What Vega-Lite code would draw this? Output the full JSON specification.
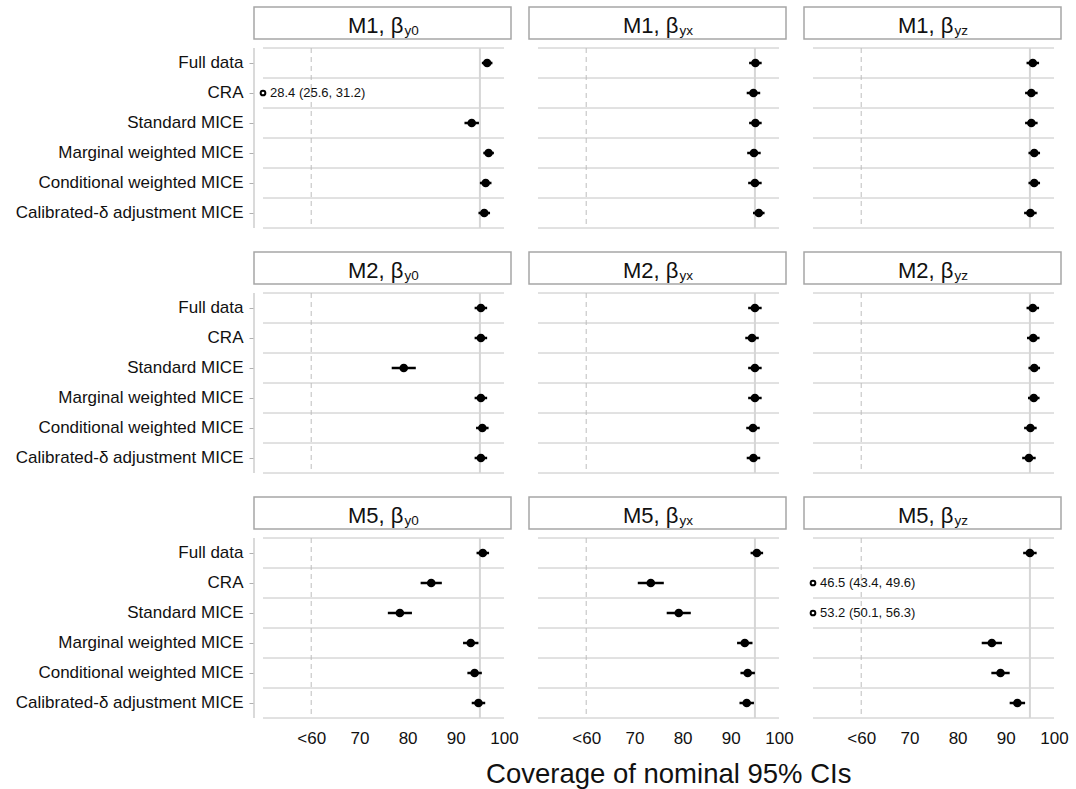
{
  "$schema": "https://vega.github.io/schema/vega-lite/v6.json",
  "background": "white",
  "padding": {"left": 15, "top": 6, "right": 5, "bottom": 5},
  "config": {"view": {"stroke": null}, "font": "Liberation Sans"},
  "title": {"text": "Coverage of nominal 95% CIs", "orient": "bottom", "anchor": "middle", "frame": "bounds", "dx": 127, "fontSize": 27.5, "fontWeight": "normal", "color": "#111111", "offset": 15},
  "data": {
    "values": [
      {"model": "M1", "param": "y0", "method": "Full data", "coverage": 96.5, "lo": 95.4, "hi": 97.6},
      {"model": "M1", "param": "y0", "method": "CRA", "coverage": 28.4, "lo": 25.6, "hi": 31.2},
      {"model": "M1", "param": "y0", "method": "Standard MICE", "coverage": 93.3, "lo": 91.8, "hi": 94.8},
      {"model": "M1", "param": "y0", "method": "Marginal weighted MICE", "coverage": 96.8, "lo": 95.7, "hi": 97.9},
      {"model": "M1", "param": "y0", "method": "Conditional weighted MICE", "coverage": 96.2, "lo": 95.0, "hi": 97.4},
      {"model": "M1", "param": "y0", "method": "Calibrated-δ adjustment MICE", "coverage": 95.9, "lo": 94.7, "hi": 97.1},
      {"model": "M1", "param": "yx", "method": "Full data", "coverage": 95.1, "lo": 93.8, "hi": 96.4},
      {"model": "M1", "param": "yx", "method": "CRA", "coverage": 94.7, "lo": 93.3, "hi": 96.1},
      {"model": "M1", "param": "yx", "method": "Standard MICE", "coverage": 95.1, "lo": 93.8, "hi": 96.4},
      {"model": "M1", "param": "yx", "method": "Marginal weighted MICE", "coverage": 94.8, "lo": 93.4, "hi": 96.2},
      {"model": "M1", "param": "yx", "method": "Conditional weighted MICE", "coverage": 95.0, "lo": 93.6, "hi": 96.4},
      {"model": "M1", "param": "yx", "method": "Calibrated-δ adjustment MICE", "coverage": 95.8, "lo": 94.6, "hi": 97.0},
      {"model": "M1", "param": "yz", "method": "Full data", "coverage": 95.6, "lo": 94.3, "hi": 96.9},
      {"model": "M1", "param": "yz", "method": "CRA", "coverage": 95.3, "lo": 94.0, "hi": 96.6},
      {"model": "M1", "param": "yz", "method": "Standard MICE", "coverage": 95.3, "lo": 94.0, "hi": 96.6},
      {"model": "M1", "param": "yz", "method": "Marginal weighted MICE", "coverage": 95.9, "lo": 94.7, "hi": 97.1},
      {"model": "M1", "param": "yz", "method": "Conditional weighted MICE", "coverage": 95.9, "lo": 94.7, "hi": 97.1},
      {"model": "M1", "param": "yz", "method": "Calibrated-δ adjustment MICE", "coverage": 95.1, "lo": 93.8, "hi": 96.4},
      {"model": "M2", "param": "y0", "method": "Full data", "coverage": 95.2, "lo": 93.9, "hi": 96.5},
      {"model": "M2", "param": "y0", "method": "CRA", "coverage": 95.2, "lo": 93.9, "hi": 96.5},
      {"model": "M2", "param": "y0", "method": "Standard MICE", "coverage": 79.2, "lo": 76.7, "hi": 81.7},
      {"model": "M2", "param": "y0", "method": "Marginal weighted MICE", "coverage": 95.2, "lo": 93.9, "hi": 96.5},
      {"model": "M2", "param": "y0", "method": "Conditional weighted MICE", "coverage": 95.5, "lo": 94.2, "hi": 96.8},
      {"model": "M2", "param": "y0", "method": "Calibrated-δ adjustment MICE", "coverage": 95.2, "lo": 93.9, "hi": 96.5},
      {"model": "M2", "param": "yx", "method": "Full data", "coverage": 95.0, "lo": 93.6, "hi": 96.4},
      {"model": "M2", "param": "yx", "method": "CRA", "coverage": 94.4, "lo": 93.0, "hi": 95.8},
      {"model": "M2", "param": "yx", "method": "Standard MICE", "coverage": 95.0, "lo": 93.6, "hi": 96.4},
      {"model": "M2", "param": "yx", "method": "Marginal weighted MICE", "coverage": 95.0, "lo": 93.6, "hi": 96.4},
      {"model": "M2", "param": "yx", "method": "Conditional weighted MICE", "coverage": 94.6, "lo": 93.2, "hi": 96.0},
      {"model": "M2", "param": "yx", "method": "Calibrated-δ adjustment MICE", "coverage": 94.7, "lo": 93.3, "hi": 96.1},
      {"model": "M2", "param": "yz", "method": "Full data", "coverage": 95.6, "lo": 94.3, "hi": 96.9},
      {"model": "M2", "param": "yz", "method": "CRA", "coverage": 95.7, "lo": 94.4, "hi": 97.0},
      {"model": "M2", "param": "yz", "method": "Standard MICE", "coverage": 95.9, "lo": 94.7, "hi": 97.1},
      {"model": "M2", "param": "yz", "method": "Marginal weighted MICE", "coverage": 95.8, "lo": 94.6, "hi": 97.0},
      {"model": "M2", "param": "yz", "method": "Conditional weighted MICE", "coverage": 95.1, "lo": 93.8, "hi": 96.4},
      {"model": "M2", "param": "yz", "method": "Calibrated-δ adjustment MICE", "coverage": 94.8, "lo": 93.4, "hi": 96.2},
      {"model": "M5", "param": "y0", "method": "Full data", "coverage": 95.6, "lo": 94.3, "hi": 96.9},
      {"model": "M5", "param": "y0", "method": "CRA", "coverage": 84.9, "lo": 82.7, "hi": 87.1},
      {"model": "M5", "param": "y0", "method": "Standard MICE", "coverage": 78.4, "lo": 75.9, "hi": 80.9},
      {"model": "M5", "param": "y0", "method": "Marginal weighted MICE", "coverage": 93.1, "lo": 91.5, "hi": 94.7},
      {"model": "M5", "param": "y0", "method": "Conditional weighted MICE", "coverage": 93.9, "lo": 92.4, "hi": 95.4},
      {"model": "M5", "param": "y0", "method": "Calibrated-δ adjustment MICE", "coverage": 94.7, "lo": 93.3, "hi": 96.1},
      {"model": "M5", "param": "yx", "method": "Full data", "coverage": 95.4, "lo": 94.1, "hi": 96.7},
      {"model": "M5", "param": "yx", "method": "CRA", "coverage": 73.4, "lo": 70.7, "hi": 76.1},
      {"model": "M5", "param": "yx", "method": "Standard MICE", "coverage": 79.2, "lo": 76.7, "hi": 81.7},
      {"model": "M5", "param": "yx", "method": "Marginal weighted MICE", "coverage": 92.9, "lo": 91.3, "hi": 94.5},
      {"model": "M5", "param": "yx", "method": "Conditional weighted MICE", "coverage": 93.5, "lo": 92.0, "hi": 95.0},
      {"model": "M5", "param": "yx", "method": "Calibrated-δ adjustment MICE", "coverage": 93.3, "lo": 91.8, "hi": 94.8},
      {"model": "M5", "param": "yz", "method": "Full data", "coverage": 95.0, "lo": 93.6, "hi": 96.4},
      {"model": "M5", "param": "yz", "method": "CRA", "coverage": 46.5, "lo": 43.4, "hi": 49.6},
      {"model": "M5", "param": "yz", "method": "Standard MICE", "coverage": 53.2, "lo": 50.1, "hi": 56.3},
      {"model": "M5", "param": "yz", "method": "Marginal weighted MICE", "coverage": 87.1, "lo": 85.0, "hi": 89.2},
      {"model": "M5", "param": "yz", "method": "Conditional weighted MICE", "coverage": 88.9, "lo": 87.0, "hi": 90.8},
      {"model": "M5", "param": "yz", "method": "Calibrated-δ adjustment MICE", "coverage": 92.4, "lo": 90.8, "hi": 94.0}
    ]
  },
  "facet": {
    "row": {"field": "model", "type": "nominal", "title": null, "header": {"labels": false, "title": null}},
    "column": {"field": "param", "type": "nominal", "title": null, "header": {"labels": false, "title": null}}
  },
  "spacing": {"row": 22, "column": 16},
  "spec": {
    "width": 257,
    "height": 210,
    "layer": [
      {
        "transform": [{"filter": "datum.method === 'Full data'"}],
        "mark": {"type": "rect", "fill": "white", "stroke": "#a6a6a6", "strokeWidth": 1.5, "yOffset": -11, "y2Offset": -9},
        "encoding": {
          "x": {"datum": -1, "type": "quantitative", "scale": {"domain": [-1, 0, 59.99, 60, 101.45], "range": [0, 9, 9, 57.2, 257], "clamp": true, "nice": false, "zero": false}, "axis": {"values": [60, 70, 80, 90, 100], "labelExpr": "datum.value == 60 ? '<60' : datum.label", "domain": false, "ticks": false, "grid": false, "labelFontSize": 17, "labelColor": "#111111", "labelPadding": 11, "title": null}, "title": null},
          "x2": {"datum": 101.45},
          "y": {"datum": "hdr", "type": "nominal", "bandPosition": 0, "scale": {"domain": ["hdr", "Full data", "CRA", "Standard MICE", "Marginal weighted MICE", "Conditional weighted MICE", "Calibrated-δ adjustment MICE"], "paddingInner": 0, "paddingOuter": 0}, "axis": {"values": ["Full data", "CRA", "Standard MICE", "Marginal weighted MICE", "Conditional weighted MICE", "Calibrated-δ adjustment MICE"], "domain": false, "grid": false, "ticks": true, "tickColor": "#b0b0b0", "tickSize": 4, "labelFontSize": 17, "labelColor": "#111111", "labelPadding": 6, "labelLimit": 0}, "title": null},
          "y2": {"datum": "hdr", "bandPosition": 1}
        }
      },
      {
        "transform": [{"filter": "datum.method === 'Full data'"}, {"calculate": "datum.model + ', β'", "as": "head"}],
        "mark": {"type": "text", "align": "right", "baseline": "alphabetic", "fontSize": 22, "color": "#111111", "dx": 21},
        "encoding": {
          "x": {"datum": 74.79, "type": "quantitative", "title": null},
          "y": {"datum": "hdr", "type": "nominal", "title": null},
          "text": {"field": "head"}
        }
      },
      {
        "transform": [{"filter": "datum.method === 'Full data'"}],
        "mark": {"type": "text", "align": "left", "baseline": "alphabetic", "fontSize": 13.5, "color": "#111111", "dx": 22, "dy": 2},
        "encoding": {
          "x": {"datum": 74.79, "type": "quantitative", "title": null},
          "y": {"datum": "hdr", "type": "nominal", "title": null},
          "text": {"field": "param"}
        }
      },
      {
        "mark": {"type": "rule", "color": "#c4c4c4", "strokeWidth": 1},
        "encoding": {
          "x": {"datum": 50, "type": "quantitative", "title": null},
          "x2": {"datum": 100},
          "y": {"field": "method", "type": "nominal", "bandPosition": 0, "title": null}
        }
      },
      {
        "transform": [{"filter": "datum.method === 'Calibrated-δ adjustment MICE'"}],
        "mark": {"type": "rule", "color": "#c4c4c4", "strokeWidth": 1},
        "encoding": {
          "x": {"datum": 50, "type": "quantitative", "title": null},
          "x2": {"datum": 100},
          "y": {"field": "method", "type": "nominal", "bandPosition": 1, "title": null}
        }
      },
      {
        "transform": [{"filter": "datum.method === 'Full data'"}],
        "mark": {"type": "rule", "color": "#bdbdbd", "strokeWidth": 1, "strokeDash": [5, 4]},
        "encoding": {
          "x": {"datum": 60, "type": "quantitative", "title": null},
          "y": {"datum": "Full data", "type": "nominal", "bandPosition": 0, "title": null},
          "y2": {"datum": "Calibrated-δ adjustment MICE", "bandPosition": 1}
        }
      },
      {
        "transform": [{"filter": "datum.method === 'Full data'"}],
        "mark": {"type": "rule", "color": "#d6d6d6", "strokeWidth": 2},
        "encoding": {
          "x": {"datum": 95, "type": "quantitative", "title": null},
          "y": {"datum": "Full data", "type": "nominal", "bandPosition": 0, "title": null},
          "y2": {"datum": "Calibrated-δ adjustment MICE", "bandPosition": 1}
        }
      },
      {
        "transform": [{"filter": "datum.method === 'Full data' && datum.param === 'y0'"}],
        "mark": {"type": "rule", "color": "#b5b5b5", "strokeWidth": 1},
        "encoding": {
          "x": {"datum": -1, "type": "quantitative", "title": null},
          "y": {"datum": "Full data", "type": "nominal", "bandPosition": 0, "title": null},
          "y2": {"datum": "Calibrated-δ adjustment MICE", "bandPosition": 1}
        }
      },
      {
        "transform": [{"filter": "datum.coverage >= 60"}],
        "mark": {"type": "rule", "color": "black", "strokeWidth": 2.5},
        "encoding": {
          "x": {"field": "lo", "type": "quantitative", "title": null},
          "x2": {"field": "hi"},
          "y": {"field": "method", "type": "nominal", "title": null}
        }
      },
      {
        "transform": [{"filter": "datum.coverage >= 60"}],
        "mark": {"type": "point", "filled": true, "color": "black", "opacity": 1, "size": 75},
        "encoding": {
          "x": {"field": "coverage", "type": "quantitative", "title": null},
          "y": {"field": "method", "type": "nominal", "title": null}
        }
      },
      {
        "transform": [{"filter": "datum.coverage < 60"}],
        "mark": {"type": "point", "filled": false, "fill": "white", "stroke": "black", "strokeWidth": 2, "opacity": 1, "size": 22},
        "encoding": {
          "x": {"field": "coverage", "type": "quantitative", "title": null},
          "y": {"field": "method", "type": "nominal", "title": null}
        }
      },
      {
        "transform": [
          {"filter": "datum.coverage < 60"},
          {"calculate": "format(datum.coverage, '.1f') + ' (' + format(datum.lo, '.1f') + ', ' + format(datum.hi, '.1f') + ')'", "as": "label"}
        ],
        "mark": {"type": "text", "align": "left", "baseline": "middle", "fontSize": 13, "color": "#111111", "dx": 7},
        "encoding": {
          "x": {"field": "coverage", "type": "quantitative", "title": null},
          "y": {"field": "method", "type": "nominal", "title": null},
          "text": {"field": "label"}
        }
      }
    ]
  }
}
